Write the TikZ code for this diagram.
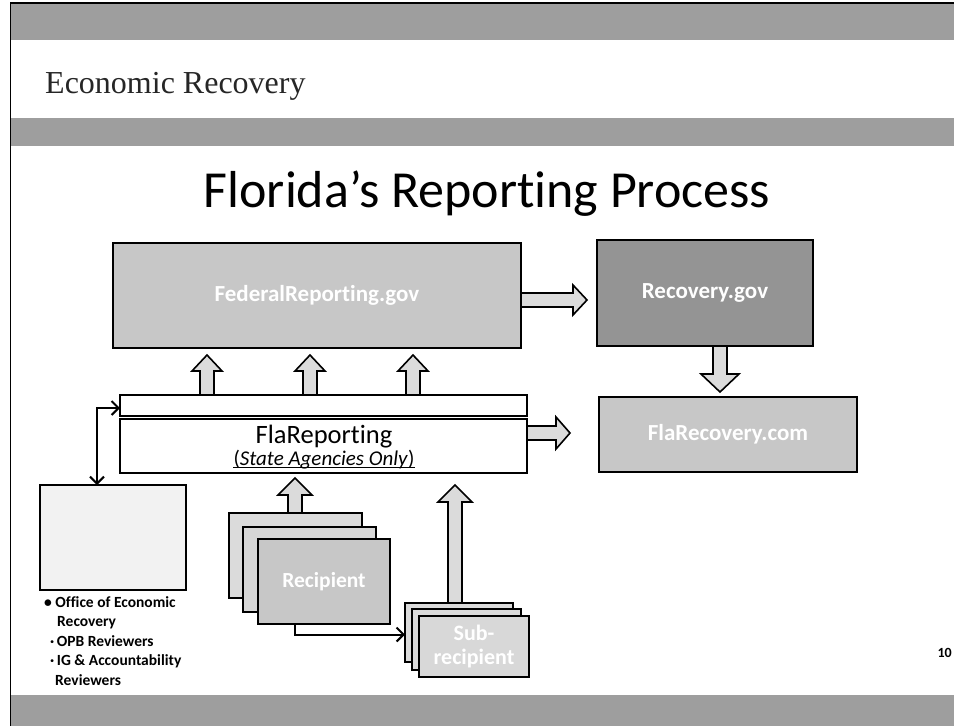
\documentclass[tikz,border=0pt]{standalone}
\usepackage{fontspec}
\setmainfont{Carlito}[Ligatures=NoCommon]
\newfontfamily\hdrfont{Liberation Serif}
\usetikzlibrary{arrows.meta,calc}
\definecolor{bandg}{gray}{0.62}
\definecolor{boxg}{gray}{0.78}
\definecolor{recg}{gray}{0.58}
\definecolor{arrg}{gray}{0.86}
\definecolor{lboxg}{gray}{0.95}
\newcommand\blkup[6]{%
  \path[blk] let \p1=(#2),\p2=(#3) in
    ({#1pt-#4pt},\y1) -- ({#1pt-#4pt},{\y2-#6pt}) -- ({#1pt-#5pt},{\y2-#6pt}) --
    (#1pt,\y2) -- ({#1pt+#5pt},{\y2-#6pt}) -- ({#1pt+#4pt},{\y2-#6pt}) --
    ({#1pt+#4pt},\y1) -- cycle;}
\newcommand\blkdown[6]{%
  \path[blk] let \p1=(#2),\p2=(#3) in
    ({#1pt-#4pt},\y1) -- ({#1pt-#4pt},{\y2+#6pt}) -- ({#1pt-#5pt},{\y2+#6pt}) --
    (#1pt,\y2) -- ({#1pt+#5pt},{\y2+#6pt}) -- ({#1pt+#4pt},{\y2+#6pt}) --
    ({#1pt+#4pt},\y1) -- cycle;}
\newcommand\blkright[6]{%
  \path[blk] let \p1=(#2),\p2=(#3) in
    (\x1,{-#1pt+#4pt}) -- ({\x2-#6pt},{-#1pt+#4pt}) -- ({\x2-#6pt},{-#1pt+#5pt}) --
    (\x2,{-#1pt}) -- ({\x2-#6pt},{-#1pt-#5pt}) -- ({\x2-#6pt},{-#1pt-#4pt}) --
    (\x1,{-#1pt-#4pt}) -- cycle;}
\begin{document}
\begin{tikzpicture}[x=1pt,y=-1pt,
  box/.style={draw=black, line width=1.8pt, anchor=north west, inner sep=0pt, outer sep=0pt},
  boxtext/.style={text=white, font=\bfseries\fontsize{23}{25}\selectfont, align=center},
  blk/.style={draw=black, line width=1.6pt, fill=arrg, line join=miter},
  barb/.tip={Straight Barb[length=7pt,width=14pt,line width=2pt]},
  thinarr/.style={draw=black, line width=2pt, arrows={-barb}},
  band/.style={fill=bandg}]
\useasboundingbox (0,0) rectangle (954,726);
\clip (0,0) rectangle (954,726);
\fill[white] (0,0) rectangle (954,726);
% bands and frame
\fill[band] (10,3) rectangle (954,40);
\draw[line width=1.5pt] (10,3) -- (954,3);
\fill[band] (10,118) rectangle (954,146);
\fill[band] (10,695) rectangle (954,726);
\draw[line width=1pt] (10,3) -- (10,726);
% header and title
\node[anchor=base west, inner sep=0pt, font=\hdrfont\fontsize{32}{32}\selectfont, text=black!85] (hdr) at (45,93) {Economic Recovery};
\node[anchor=base, inner sep=0pt, font=\fontsize{52}{52}\selectfont] (title) at (487,207) {Florida’s Reporting Process};
% main boxes
\node[box, fill=boxg, minimum width=408pt, minimum height=105pt, boxtext] (frg) at (113,243) {FederalReporting.gov};
\node[box, fill=recg, minimum width=216pt, minimum height=106pt, boxtext] (rec) at (597,240) {Recovery.gov};
\node[box, fill=boxg, minimum width=258pt, minimum height=75pt, boxtext] (flarec) at (599,397) {FlaRecovery.com};
\node[box, fill=white, minimum width=407pt, minimum height=21pt] (strip) at (120,395) {};
\node[box, fill=white, minimum width=407pt, minimum height=54pt] (flarep) at (120,419) {};
\node[anchor=base, inner sep=0pt, font=\fontsize{26.5}{28}\selectfont] (flaname) at (324,443) {FlaReporting};
\node[anchor=base, inner sep=0pt, font=\fontsize{21}{22}\selectfont] (flasub) at (324,465) {(\textit{State Agencies Only})};
\draw[line width=0.9pt] ([yshift=-2.5pt]flasub.base west) -- ([yshift=-2.5pt]flasub.base east);
\node[box, fill=lboxg, minimum width=146pt, minimum height=105pt] (lbox) at (40,485) {};
% recipient stack
\node[box, fill=arrg, minimum width=133pt, minimum height=85pt] (r1) at (229,513) {};
\node[box, fill=arrg!80!boxg, minimum width=133pt, minimum height=85pt] (r2) at (243,527) {};
\node[box, fill=boxg, minimum width=132pt, minimum height=85pt, boxtext, font=\bfseries\fontsize{21.5}{23}\selectfont] (r3) at (258,539) {Recipient};
% sub-recipient stack
\node[box, fill=arrg, minimum width=108pt, minimum height=59pt] (s1) at (405,603) {};
\node[box, fill=arrg, minimum width=109pt, minimum height=61pt] (s2) at (412,609) {};
\node[box, fill=boxg!70!white, minimum width=110pt, minimum height=61pt, boxtext, font=\bfseries\fontsize{22}{24}\selectfont] (s3) at (419,616) {Sub-\\recipient};
% reviewers list
\node[anchor=north west, inner sep=0pt, align=left, font=\bfseries\fontsize{15.5}{19.5}\selectfont] (rev) at (44,596)
  {\textbullet\ Office of Economic\\
   \hspace{13pt}Recovery\\
   \hspace{6pt}\textperiodcentered\,OPB Reviewers\\
   \hspace{6pt}\textperiodcentered\,IG \& Accountability\\
   \hspace{11pt}Reviewers};
% page number
\node[anchor=base east, inner sep=0pt, font=\bfseries\fontsize{14}{14}\selectfont] (pg) at (952,657) {10};
% block arrows
\blkright{300}{frg.east}{[xshift=-10pt]rec.west}{7}{15}{14}
\blkdown{720}{rec.south}{[yshift=5pt]flarec.north}{7}{19}{18}
\blkup{207}{strip.north}{[yshift=-7pt]frg.south}{7}{15}{16}
\blkup{310}{strip.north}{[yshift=-7pt]frg.south}{7}{15}{16}
\blkup{413}{strip.north}{[yshift=-7pt]frg.south}{7}{15}{16}
\blkright{433}{flarep.east}{[xshift=-29pt]flarec.west}{7}{16}{14}
\blkup{295}{r1.north}{[yshift=-5pt]flarep.south}{7}{17}{17}
\blkup{455}{s1.north}{[yshift=-12pt]flarep.south}{7}{17}{17}
% thin connectors
\draw[thinarr, arrows={barb-barb}]
  ($(lbox.north west)+(57,0)$) |- ($(strip.west)+(0,2.5)$);
\draw[thinarr] ($(r3.south west)+(37,0)$) |- ($(s1.west)+(0,2)$);
\end{tikzpicture}
\end{document}
